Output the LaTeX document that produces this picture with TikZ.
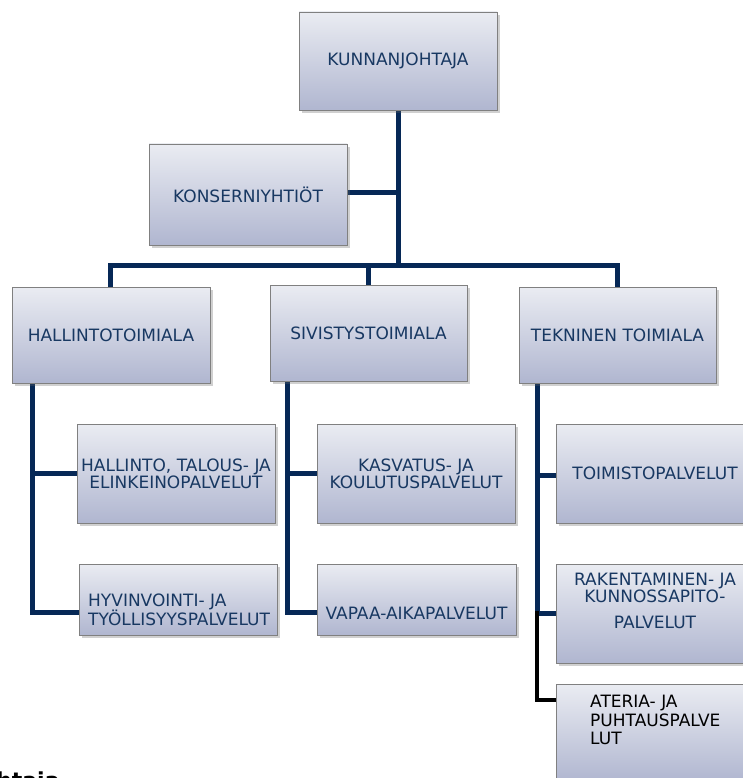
\documentclass[tikz,border=0pt]{standalone}
\usepackage{fontspec}
\setmainfont{DejaVu Sans}
\newfontfamily\boldfont{DejaVu Sans Bold}
\usetikzlibrary{shadows}
\definecolor{boxtop}{RGB}{234,236,242}
\definecolor{boxbot}{RGB}{176,182,208}
\definecolor{boxline}{RGB}{128,128,128}
\definecolor{navy}{RGB}{6,40,86}
\definecolor{txtblue}{RGB}{24,56,98}
\tikzset{
  orgbox/.style={rectangle, draw=boxline, line width=0.8pt, top color=boxtop, bottom color=boxbot,
    drop shadow={shadow xshift=2.5pt, shadow yshift=-3pt, opacity=0.3, fill=black!60},
    inner sep=0pt, minimum width=198pt, text=txtblue, align=center,
    font=\fontsize{17}{17}\selectfont},
  lbl/.style={inner sep=0pt, text=txtblue, font=\fontsize{17}{19}\selectfont},
  conn/.style={draw=navy, line width=5pt, line join=miter, line cap=rect},
  blk/.style={draw=black, line width=4.5pt, line join=miter, line cap=rect}
}
\begin{document}
\begin{tikzpicture}[x=1pt,y=-1pt]
\useasboundingbox (0,0) rectangle (743,778);
\clip (0,0) rectangle (743,778);
\fill[white] (0,0) rectangle (743,778);
% connector coordinates
\coordinate (j) at (398,265);
\coordinate (hx) at (32,0);
\coordinate (sx) at (287,0);
\coordinate (tx) at (537,0);
\coordinate (hyvc) at (79,612);
\coordinate (vapc) at (317,612);
\coordinate (rakc) at (556,613);
\coordinate (ater) at (556,700);
% connectors (drawn first, boxes cover ends)
\draw[conn] (398,110) coordinate (kjb) -- (j);
\draw[conn] (347,192) coordinate (konsc) -- (398,192);
\draw[conn] (110,287) coordinate (hn) |- (j);
\draw[conn] (617,287) coordinate (tn) |- (j);
\draw[conn] (368,285) coordinate (sn) -- (368,265);
\draw[conn] (hx |- 0,383) |- (hyvc);
\draw[conn] (hx |- 0,473) -- (77,473);
\draw[conn] (sx |- 0,381) |- (vapc);
\draw[conn] (sx |- 0,473) -- (317,473);
\draw[conn] (tx |- 0,383) |- (rakc);
\draw[conn] (tx |- 0,475) -- (556,475);
\draw[blk] (tx |- 0,613) |- (ater);
% boxes
\node[orgbox, minimum height=98pt] (kj) at (398,61) {KUNNANJOHTAJA};
\node[orgbox, minimum height=101pt] (kons) at (248,194.5) {KONSERNIYHTIÖT};
\node[orgbox, minimum height=96pt] (hall) at (111,335) {HALLINTOTOIMIALA};
\node[orgbox, minimum height=96pt, minimum width=197pt] (siv) at (368.5,333) {SIVISTYSTOIMIALA};
\node[orgbox, minimum height=96pt, minimum width=197pt] (tek) at (617.5,335) {TEKNINEN TOIMIALA};
\node[orgbox, minimum height=99pt] (hto) at (176,473.5) {HALLINTO, TALOUS- JA\\ELINKEINOPALVELUT};
\node[orgbox, minimum height=71pt] (hyv) at (178,599.5) {};
\node[lbl, anchor=base west, align=left] (hyvt) at (88,625.5) {HYVINVOINTI- JA\\TYÖLLISYYSPALVELUT};
\node[orgbox, minimum height=99pt] (kasv) at (416,473.5) {KASVATUS- JA\\KOULUTUSPALVELUT};
\node[orgbox, minimum height=71pt, minimum width=199pt] (vapaa) at (416.5,599.5) {};
\node[lbl, anchor=base] (vapaat) at (416.5,619) {VAPAA-AIKAPALVELUT};
\node[orgbox, minimum height=99pt] (toim) at (655,473.5) {TOIMISTOPALVELUT};
\node[orgbox, minimum height=99pt] (rak) at (655,613.5) {};
\node[lbl, anchor=base, align=center, font=\fontsize{17}{16}\selectfont] (rakt) at (655,602.5) {RAKENTAMINEN- JA\\KUNNOSSAPITO-};
\node[lbl, anchor=base] (rakt2) at (655,628) {PALVELUT};
\node[orgbox, minimum height=98pt] (at) at (655,733) {};
\node[lbl, text=black, anchor=base west, align=left, font=\fontsize{17}{18.5}\selectfont] (att) at (590,744.5) {ATERIA- JA\\PUHTAUSPALVE\\LUT};
% cropped page text
\node[inner sep=0pt, anchor=base west, font=\boldfont\fontsize{22}{24}\selectfont] (cut) at (-4,788) {htaja};
\end{tikzpicture}
\end{document}
